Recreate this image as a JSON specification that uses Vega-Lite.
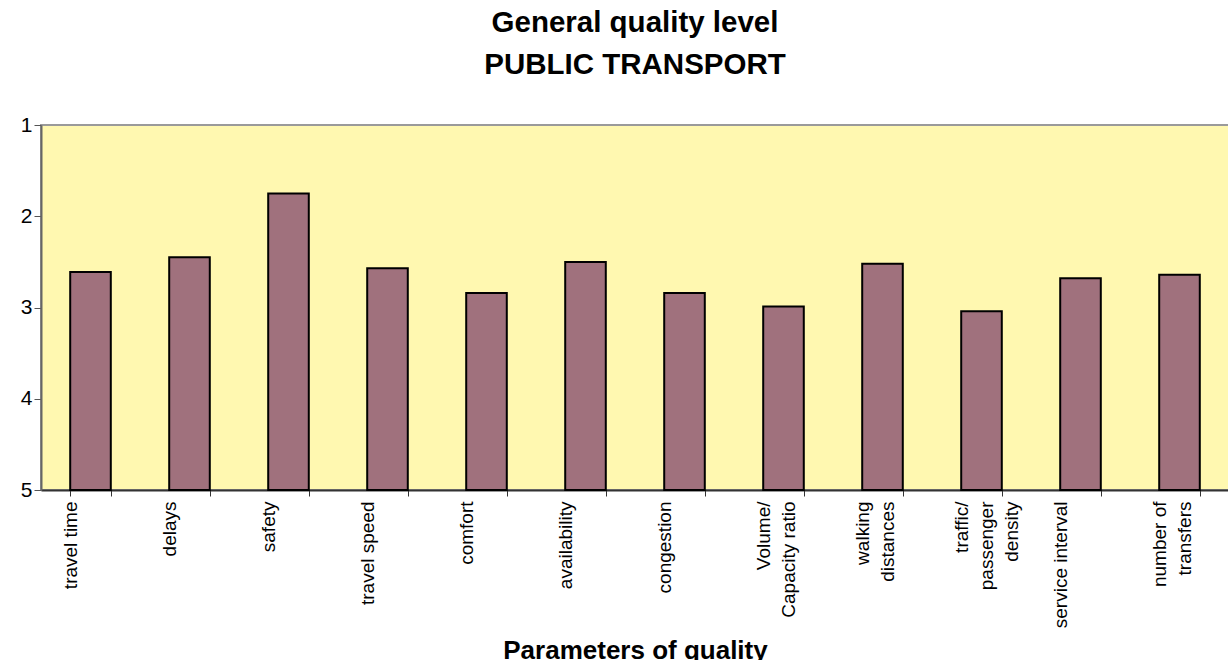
{
  "$schema": "https://vega.github.io/schema/vega-lite/v6.json",
  "autosize": "none",
  "width": 1188,
  "height": 365,
  "padding": {"left": 41, "top": 125, "right": 0, "bottom": 170},
  "background": "white",
  "config": {
    "font": "Liberation Sans",
    "view": {"fill": "#FFF8B0", "stroke": "#9a9a9a", "strokeWidth": 2}
  },
  "title": {
    "text": ["General quality level", "PUBLIC TRANSPORT"],
    "font": "Liberation Sans",
    "fontSize": 29.5,
    "fontWeight": "bold",
    "color": "black",
    "lineHeight": 42,
    "anchor": "middle",
    "frame": "group",
    "offset": 34
  },
  "data": {
    "values": [
      {"parameter": "travel time", "level": 2.61},
      {"parameter": "delays", "level": 2.45},
      {"parameter": "safety", "level": 1.75},
      {"parameter": "travel speed", "level": 2.57},
      {"parameter": "comfort", "level": 2.84},
      {"parameter": "availability", "level": 2.5},
      {"parameter": "congestion", "level": 2.84},
      {"parameter": "Volume/|Capacity ratio", "level": 2.99},
      {"parameter": "walking|distances", "level": 2.52},
      {"parameter": "traffic/|passenger|density", "level": 3.04},
      {"parameter": "service interval", "level": 2.68},
      {"parameter": "number of|transfers", "level": 2.64}
    ]
  },
  "mark": {"type": "bar", "fill": "#A0717D", "stroke": "black", "strokeWidth": 2},
  "encoding": {
    "x": {
      "field": "parameter",
      "type": "nominal",
      "sort": null,
      "scale": {"paddingInner": 0.59, "paddingOuter": 0.295},
      "axis": {
        "title": "Parameters of quality",
        "titleFont": "Liberation Sans",
        "titleFontSize": 26,
        "titleFontWeight": "bold",
        "titleColor": "black",
        "titlePadding": 10,
        "labelExpr": "split(datum.label, '|')",
        "labelAngle": 270,
        "labelAlign": "right",
        "labelBaseline": "middle",
        "labelFontSize": 19,
        "labelLineHeight": 25,
        "labelColor": "black",
        "labelPadding": 5,
        "labelLimit": 300,
        "labelOffset": -20,
        "tickBand": "extent",
        "tickSize": 6,
        "tickColor": "#333",
        "domainColor": "#333",
        "domainWidth": 2,
        "grid": false
      }
    },
    "y": {
      "field": "level",
      "type": "quantitative",
      "scale": {"domain": [1, 5], "reverse": true, "nice": false, "zero": false},
      "axis": {
        "title": null,
        "values": [1, 2, 3, 4, 5],
        "labelFontSize": 21,
        "labelColor": "black",
        "labelPadding": 2,
        "tickSize": 7,
        "tickColor": "#555",
        "domainColor": "#666",
        "domainWidth": 2,
        "grid": false
      }
    },
    "y2": {"datum": 5}
  }
}
